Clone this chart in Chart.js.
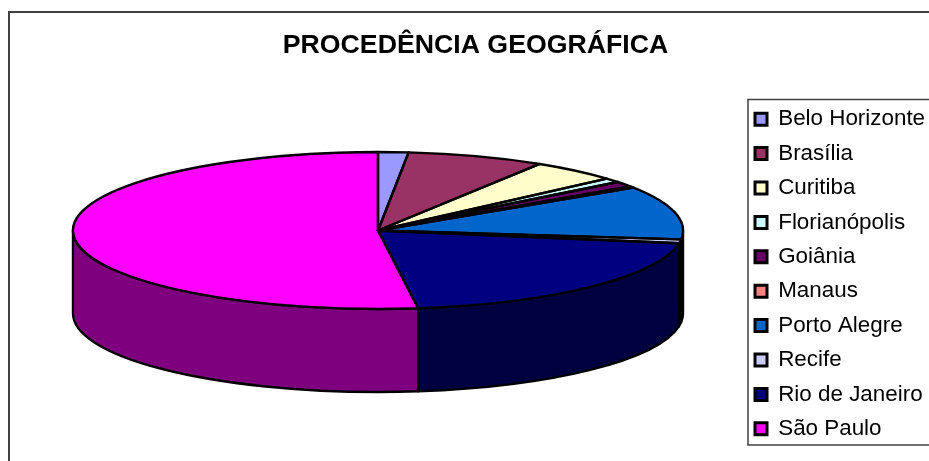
<!DOCTYPE html>
<html><head><meta charset="utf-8">
<style>html,body{margin:0;padding:0;background:#fff}canvas{display:block}</style>
<script src="https://cdn.jsdelivr.net/npm/chart.js@4"></script>
</head><body><canvas id="c" width="929" height="461"></canvas>
<script>
const categories = ["Belo Horizonte","Brasília","Curitiba","Florianópolis","Goiânia","Manaus","Porto Alegre","Recife","Rio de Janeiro","São Paulo"];
const shares = [1.6,7.3,4.6,0.9,1.1,0.3,11.0,0.8,20.3,52.1];
const colors = ["#9999FF","#993366","#FFFFCC","#CCFFFF","#660066","#FF8080","#0066CC","#CCCCFF","#000080","#FF00FF"];

const view = {cx:378, cy:230.5, rx:305, ry:78.5, depth:83, line:2.4};
const half = h => { const n=parseInt(h.slice(1),16);
  return `rgb(${(n>>16&255)>>1},${(n>>8&255)>>1},${(n&255)>>1})`; };

const pie3d = {
  id:'pie3d',
  beforeDraw(chart){
    const {ctx} = chart;
    ctx.save();
    ctx.fillStyle='#fff'; ctx.fillRect(0,0,chart.width,chart.height);
    ctx.strokeStyle='#404040'; ctx.lineWidth=2;
    ctx.strokeRect(9,12,chart.width+20,chart.height+20);
    ctx.strokeStyle='#404040'; ctx.lineWidth=1.5;
    ctx.strokeRect(748,99.5,chart.width,345.5);
    ctx.restore();
    const lg = chart.legend;
    const w = lg.right-lg.left, h = lg.bottom-lg.top;
    lg.left = 743; lg.right = lg.left+w;
    lg.top = 96; lg.bottom = lg.top+h;
  },
  beforeDatasetDraw(chart,args){
    const {ctx} = chart, v=view;
    const arcs = chart.getDatasetMeta(args.index).data;
    ctx.save();
    ctx.lineWidth=v.line; ctx.strokeStyle='#000'; ctx.lineJoin='round';
    arcs.forEach((a,i)=>{
      const lo=Math.max(a.startAngle,0), hi=Math.min(a.endAngle,Math.PI);
      if(hi<=lo) return;
      ctx.beginPath();
      ctx.ellipse(v.cx,v.cy,v.rx,v.ry,0,lo,hi);
      ctx.ellipse(v.cx,v.cy+v.depth,v.rx,v.ry,0,hi,lo,true);
      ctx.closePath();
      ctx.fillStyle=half(colors[i]);
      ctx.fill(); ctx.stroke();
    });
    ctx.restore();
    const a0=arcs[0];
    ctx.save();
    ctx.translate(v.cx,v.cy);
    ctx.scale(v.rx/a0.outerRadius,v.ry/a0.outerRadius);
    ctx.translate(-a0.x,-a0.y);
  },
  afterDatasetDraw(chart,args){
    const {ctx} = chart, v=view;
    ctx.restore();
    const arcs = chart.getDatasetMeta(args.index).data;
    ctx.save();
    ctx.lineWidth=v.line; ctx.strokeStyle='#000'; ctx.lineJoin='round';
    arcs.forEach(a=>{
      ctx.save();
      ctx.translate(v.cx,v.cy);
      ctx.scale(v.rx/a.outerRadius,v.ry/a.outerRadius);
      ctx.translate(-a.x,-a.y);
      ctx.beginPath();
      ctx.moveTo(a.x,a.y);
      ctx.arc(a.x,a.y,a.outerRadius,a.startAngle,a.endAngle);
      ctx.closePath();
      ctx.restore();
      ctx.stroke();
    });
    ctx.restore();
  }
};

const baseLabels = Chart.overrides.pie.plugins.legend.labels.generateLabels;
new Chart(document.getElementById('c'),{
  type:'pie',
  data:{labels:categories,datasets:[{data:shares,backgroundColor:colors,borderWidth:0,clip:false}]},
  options:{
    responsive:false,animation:false,
    layout:{padding:{left:22,right:0,top:0,bottom:0}},
    plugins:{
      tooltip:{enabled:false},
      title:{display:true,text:"PROCEDÊNCIA GEOGRÁFICA",color:'#000',
        font:{family:'"Liberation Sans"',size:26.7,weight:'bold'},padding:{top:30,bottom:10}},
      legend:{position:'right',align:'start',
        labels:{color:'#000',font:{family:'"Liberation Sans"',size:22.4},boxWidth:12,boxHeight:12,padding:12,
          generateLabels(chart){
            return baseLabels(chart).map(l=>Object.assign(l,{strokeStyle:'#000',lineWidth:3}));
          }}}
    }
  },
  plugins:[pie3d]
});
</script></body></html>
